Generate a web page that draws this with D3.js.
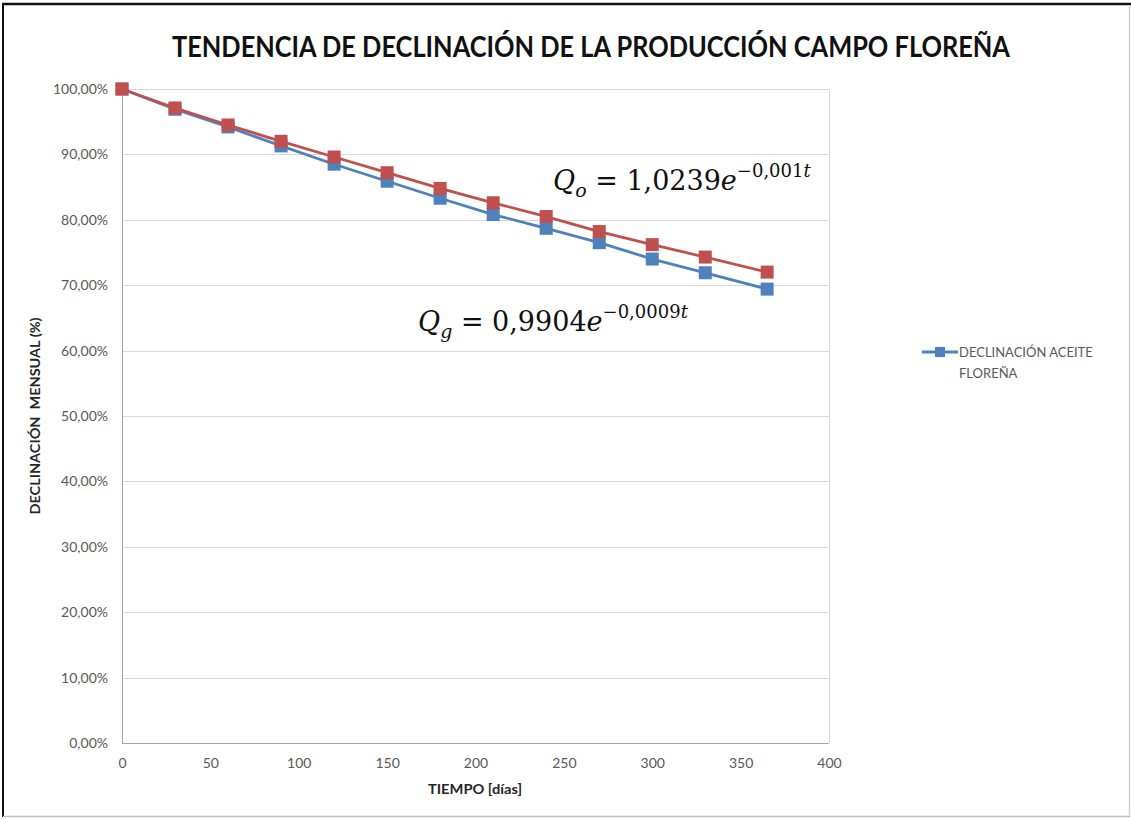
<!DOCTYPE html>
<html>
<head>
<meta charset="utf-8">
<script src="https://cdn.jsdelivr.net/npm/d3@7"></script>
<style>
  html, body { margin: 0; padding: 0; background: #fff; }
  svg { display: block; }
</style>
</head>
<body>
<svg id="chart" width="1131" height="819"></svg>
<script>
// Production decline, Floreña field
const days = [0, 30, 60, 90, 120, 150, 180, 210, 240, 270, 300, 330, 365];
const oilDecline = [1.000, 0.969, 0.942, 0.913, 0.885, 0.859, 0.833, 0.808, 0.787, 0.765, 0.740, 0.719, 0.694];
const gasDecline = [1.000, 0.971, 0.945, 0.920, 0.896, 0.872, 0.848, 0.826, 0.805, 0.782, 0.762, 0.743, 0.720];
const yTicks = [0, 0.1, 0.2, 0.3, 0.4, 0.5, 0.6, 0.7, 0.8, 0.9, 1.0];
const xTicks = [0, 50, 100, 150, 200, 250, 300, 350, 400];
const titleText = "TENDENCIA DE DECLINACIÓN DE LA PRODUCCIÓN CAMPO FLOREÑA";
const xTitle = "TIEMPO [días]";
const yTitle = "DECLINACIÓN  MENSUAL (%)";
const legendLines = ["DECLINACIÓN ACEITE", "FLOREÑA"];

const BLUE = "#4F81BD", RED = "#C0504D", GRID = "#D9D9D9", TXT = "#595959";
const FONT = "Lato, 'Open Sans', sans-serif";
const SERIF = "'DejaVu Serif', 'Liberation Serif', serif";

const svg = d3.select("#chart");

// outer frame
svg.append("rect").attr("x", 0).attr("y", 0).attr("width", 1131).attr("height", 819).attr("fill", "#fff");
svg.append("line").attr("x1", 2).attr("x2", 1131).attr("y1", 4).attr("y2", 4).attr("stroke", "#111").attr("stroke-width", 2.5);
svg.append("line").attr("x1", 3).attr("x2", 3).attr("y1", 3).attr("y2", 817).attr("stroke", "#111").attr("stroke-width", 2);
svg.append("line").attr("x1", 1129.5).attr("x2", 1129.5).attr("y1", 5).attr("y2", 817).attr("stroke", "#cfcfcf").attr("stroke-width", 1.5);
svg.append("line").attr("x1", 3).attr("x2", 1130).attr("y1", 816.5).attr("y2", 816.5).attr("stroke", "#bdbdbd").attr("stroke-width", 1.5);

const x = d3.scaleLinear().domain([0, 400]).range([122, 829]);
const y = d3.scaleLinear().domain([0, 1]).range([743, 89]);

const pct = d3.formatLocale({ decimal: ",", thousands: ".", grouping: [3], currency: ["", ""] }).format(".2%");

// gridlines
svg.append("g").selectAll("line").data(yTicks).join("line")
  .attr("x1", x(0)).attr("x2", x(400))
  .attr("y1", d => Math.round(y(d)) + 0.5).attr("y2", d => Math.round(y(d)) + 0.5)
  .attr("stroke", d => d === 0 ? "#A6A6A6" : GRID).attr("stroke-width", 1);

// plot area edges
svg.append("line").attr("x1", x(0) + 0.5).attr("x2", x(0) + 0.5).attr("y1", y(1)).attr("y2", y(0))
  .attr("stroke", "#A6A6A6");
svg.append("line").attr("x1", x(400) + 0.5).attr("x2", x(400) + 0.5).attr("y1", y(1)).attr("y2", y(0))
  .attr("stroke", GRID);

// y axis labels
const yAxis = d3.axisLeft(y).tickValues(yTicks).tickFormat(pct).tickSize(0).tickPadding(14);
const gy = svg.append("g").attr("transform", `translate(${x(0)},0)`).call(yAxis);
gy.select(".domain").remove();
gy.selectAll("text").attr("font-family", FONT).attr("font-size", 14).attr("fill", TXT);

// x axis labels
const xAxis = d3.axisBottom(x).tickValues(xTicks).tickSize(0).tickPadding(15);
const gx = svg.append("g").attr("transform", `translate(0,${y(0)})`).call(xAxis);
gx.select(".domain").remove();
gx.selectAll("text").attr("font-family", FONT).attr("font-size", 14).attr("fill", TXT);

// series
const line = d3.line().x((d, i) => x(days[i])).y(d => y(d));
function drawSeries(values, color) {
  svg.append("path").datum(values).attr("d", line)
    .attr("fill", "none").attr("stroke", color).attr("stroke-width", 2.8).attr("stroke-linejoin", "round");
  svg.append("g").selectAll("rect").data(values).join("rect")
    .attr("x", (d, i) => x(days[i]) - 6.5).attr("y", d => y(d) - 6.5)
    .attr("width", 13).attr("height", 13).attr("fill", color);
}
drawSeries(oilDecline, BLUE);
drawSeries(gasDecline, RED);

// title
svg.append("text").attr("x", 591).attr("y", 57).attr("text-anchor", "middle")
  .attr("font-family", FONT).attr("font-weight", 700).attr("font-size", 28).attr("fill", "#111")
  .attr("textLength", 838).attr("lengthAdjust", "spacingAndGlyphs").text(titleText);

// axis titles
svg.append("text").attr("x", 475).attr("y", 794).attr("text-anchor", "middle")
  .attr("font-family", FONT).attr("font-weight", 700).attr("font-size", 13).attr("fill", "#262626")
  .attr("textLength", 94).attr("lengthAdjust", "spacingAndGlyphs").text(xTitle);
svg.append("text").attr("transform", "translate(40,416) rotate(-90)").attr("text-anchor", "middle")
  .attr("font-family", FONT).attr("font-weight", 700).attr("font-size", 13).attr("fill", "#262626")
  .attr("textLength", 197).attr("lengthAdjust", "spacingAndGlyphs")
  .style("white-space", "pre").text(yTitle);

// trend equations: Q_sub = coef · e^(expo t)
function equation(xPos, yPos, sub, coef, expo) {
  const t = svg.append("text").attr("x", xPos).attr("y", yPos)
    .attr("font-family", SERIF).attr("font-size", 27).attr("fill", "#111");
  t.append("tspan").attr("font-style", "italic").text("Q");
  t.append("tspan").attr("font-style", "italic").attr("font-size", 19).attr("dy", 7).text(sub);
  t.append("tspan").attr("dy", -7).text(" = " + coef);
  t.append("tspan").attr("font-style", "italic").text("e");
  t.append("tspan").attr("font-size", 18).attr("dy", -13).text(expo);
  t.append("tspan").attr("font-size", 18).attr("font-style", "italic").text("t");
}
equation(553, 190, "o", "1,0239", "−0,001");
equation(418, 331, "g", "0,9904", "−0,0009");

// legend (oil series only)
const lg = svg.append("g");
lg.append("line").attr("x1", 922).attr("x2", 958).attr("y1", 352).attr("y2", 352).attr("stroke", BLUE).attr("stroke-width", 2.8);
lg.append("rect").attr("x", 935).attr("y", 347).attr("width", 10).attr("height", 10).attr("fill", BLUE);
lg.selectAll("text").data(legendLines).join("text")
  .attr("x", 959).attr("y", (d, i) => 357 + i * 21)
  .attr("font-family", FONT).attr("font-size", 13).attr("fill", TXT).text(d => d);
</script>
</body>
</html>
